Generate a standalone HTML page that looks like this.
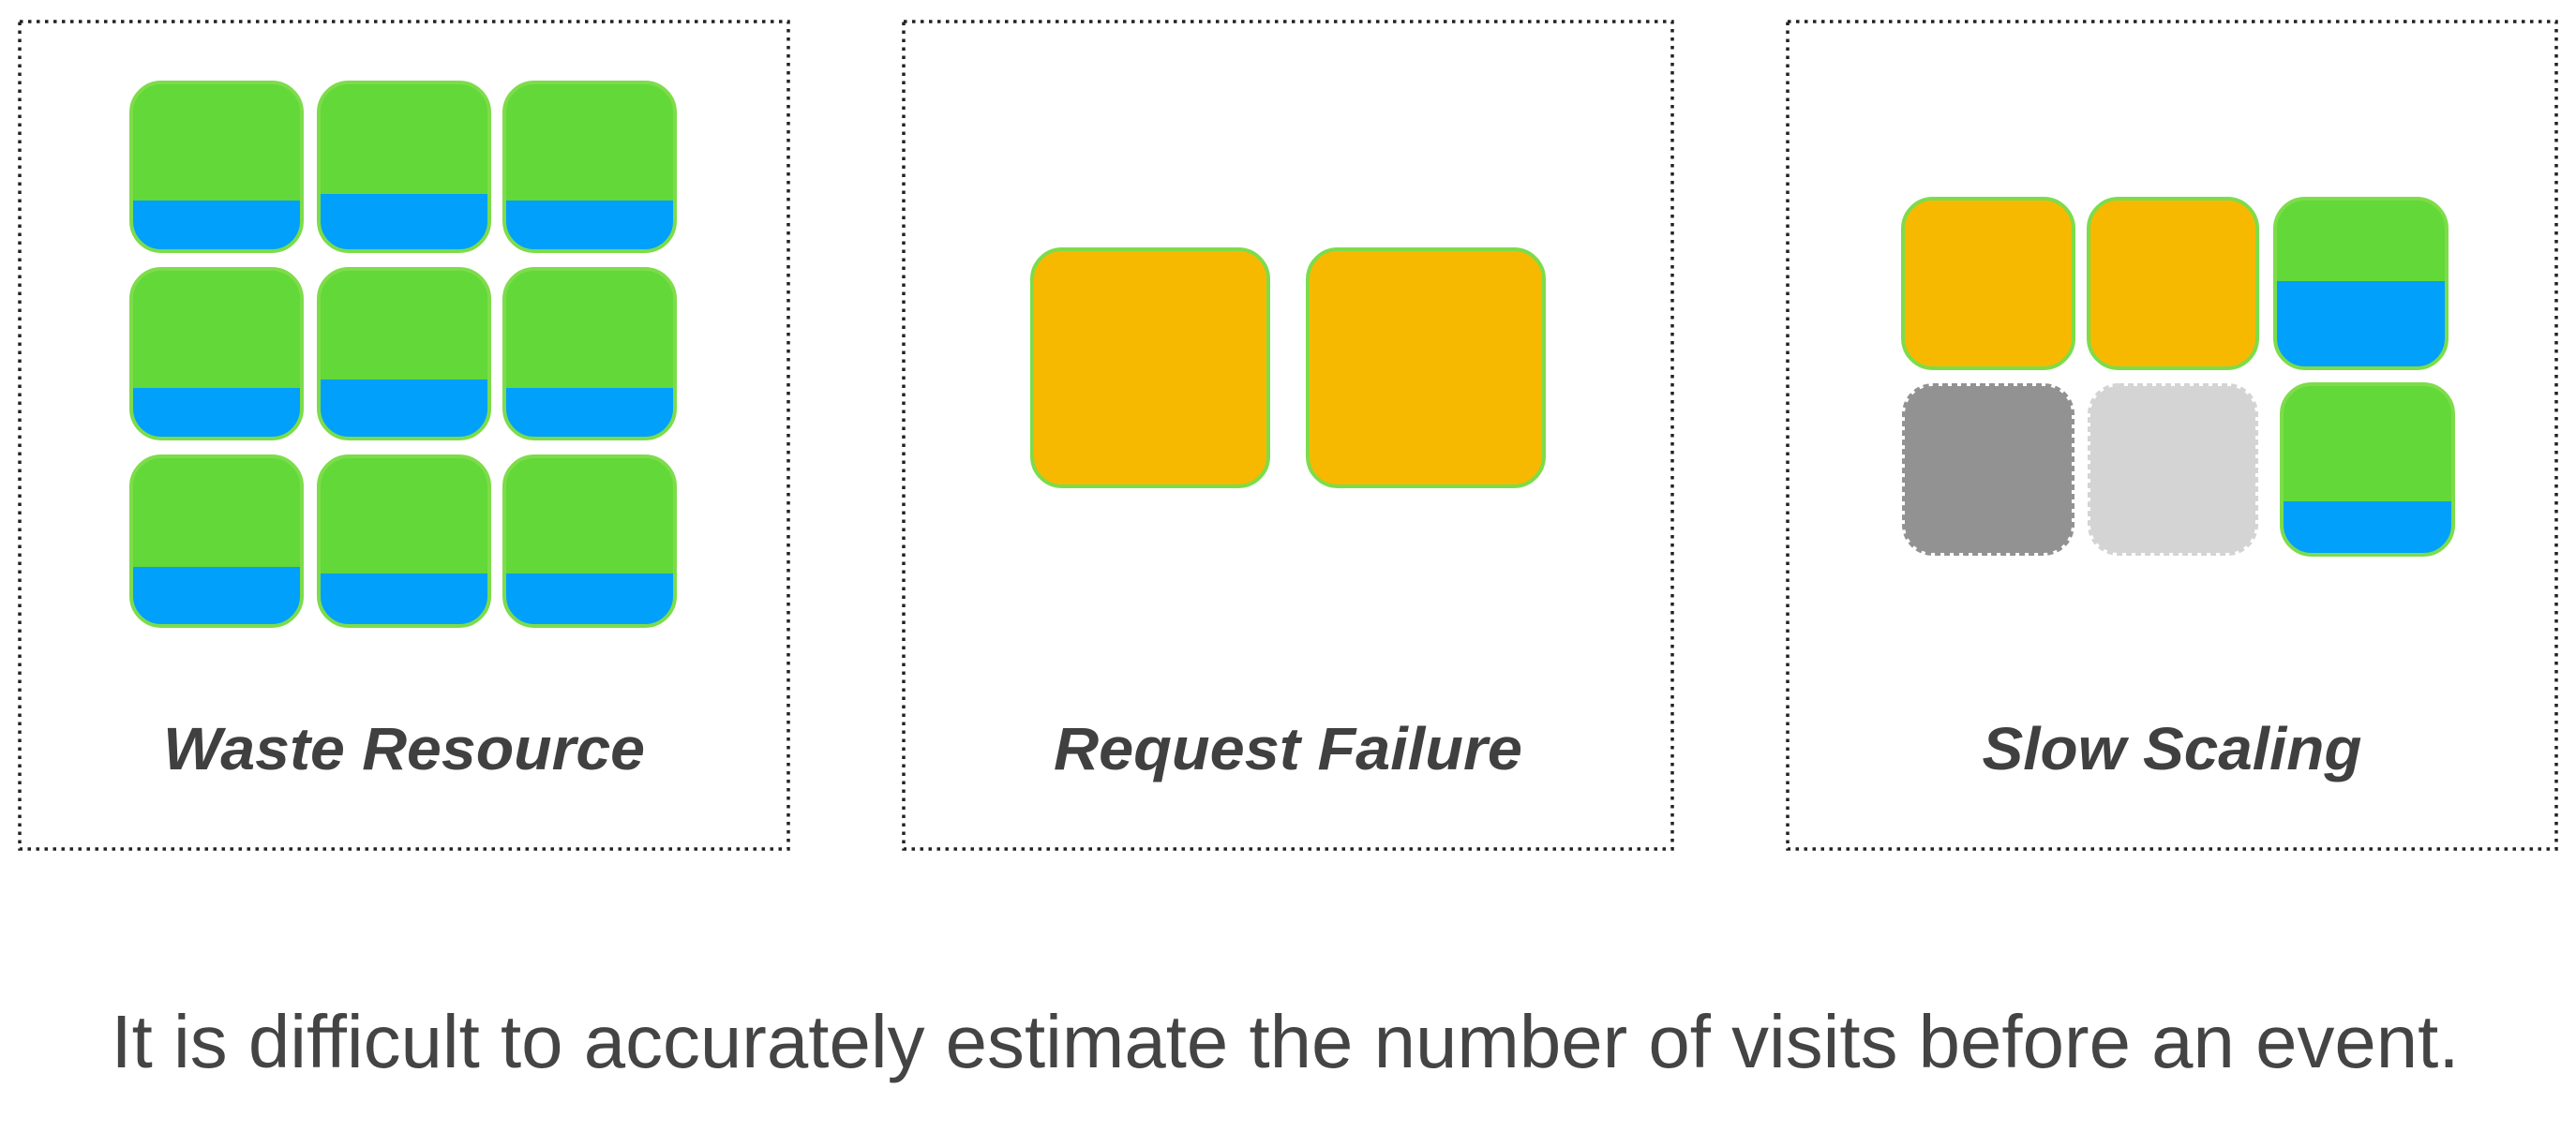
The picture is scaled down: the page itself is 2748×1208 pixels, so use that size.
<!DOCTYPE html>
<html><head><meta charset="utf-8"><style>
html,body{margin:0;padding:0;background:#fff;}
svg{display:block;}
</style></head><body>
<svg width="2748" height="1208" viewBox="0 0 2748 1208" xmlns="http://www.w3.org/2000/svg">
<g id="panels"></g>
<text x="1371" y="1139" text-anchor="middle" font-family="Liberation Sans, sans-serif" font-size="80" fill="#444" textLength="2505" lengthAdjust="spacingAndGlyphs">It is difficult to accurately estimate the number of visits before an event.</text>
</svg>
<script>
const NS='http://www.w3.org/2000/svg';
const panelTitles=['Waste Resource','Request Failure','Slow Scaling'];
const titleWidths=[514,500,405];
const panelX=[21,964,1907];
const panelW=820, panelY=23, panelH=883;
// tiles: [panel, x, y, w, h, type, blueTop]
const tiles=[
[0,140,88,182,180,'gb',214],[0,340,88,182,180,'gb',207],[0,538,88,182,180,'gb',214],
[0,140,287,182,181,'gb',414],[0,340,287,182,181,'gb',405],[0,538,287,182,181,'gb',414],
[0,140,487,182,181,'gb',605],[0,340,487,182,181,'gb',612],[0,538,487,182,181,'gb',612],
[1,1101,266,252,253,'o',0],[1,1395,266,252,253,'o',0],
[2,2030,212,182,181,'o',0],[2,2228,212,180,181,'o',0],[2,2427,212,183,181,'gb',300],
[2,2030,410,182,182,'dg',0],[2,2228,410,180,182,'lg',0],[2,2434,410,183,182,'gb',535]
];
const root=document.getElementById('panels');
function mk(tag,attrs){const e=document.createElementNS(NS,tag);for(const k in attrs)e.setAttribute(k,attrs[k]);return e;}
panelTitles.forEach((t,i)=>{
  const r=mk('rect',{x:panelX[i],y:panelY,width:panelW,height:panelH,fill:'none',stroke:'#222','stroke-width':3.5,'stroke-dasharray':'3.5 5.5'});
  
  
  root.appendChild(r);
  const tx=mk('text',{x:panelX[i]+panelW/2,y:821,'text-anchor':'middle','font-family':'Liberation Sans, sans-serif','font-size':64,'font-weight':'bold','font-style':'italic',fill:'#404040',textLength:titleWidths[i],lengthAdjust:'spacingAndGlyphs'});
  tx.textContent=t;
  
  
  root.appendChild(tx);
});
tiles.forEach((d,i)=>{
  const [p,x,y,w,h,type,bt]=d;
  const g=mk('g',{});
  
  
  const id='clip'+i;
  const cp=mk('clipPath',{id:id});
  cp.appendChild(mk('rect',{x:x,y:y,width:w,height:h,rx:32}));
  g.appendChild(cp);
  if(type==='gb'){
    const gg=mk('g',{'clip-path':'url(#'+id+')'});
    gg.appendChild(mk('rect',{x:x,y:y,width:w,height:h,fill:'#62d839'}));
    gg.appendChild(mk('rect',{x:x,y:bt,width:w,height:y+h-bt,fill:'#01a0fb'}));
    g.appendChild(gg);
    g.appendChild(mk('rect',{x:x,y:y,width:w,height:h,rx:32,fill:'none',stroke:'#7ddc4a','stroke-width':4}));
  } else if(type==='o'){
    g.appendChild(mk('rect',{x:x,y:y,width:w,height:h,rx:32,fill:'#f7b900',stroke:'#7ddc4a','stroke-width':4}));
  } else {
    const c=type==='dg'?'#929292':'#d4d4d4';
    g.appendChild(mk('rect',{x:x+2,y:y+2,width:w-4,height:h-4,rx:30,fill:c,stroke:c,'stroke-width':6,'stroke-dasharray':'6 4'}));
  }
  root.appendChild(g);
});
</script>
</body></html>
